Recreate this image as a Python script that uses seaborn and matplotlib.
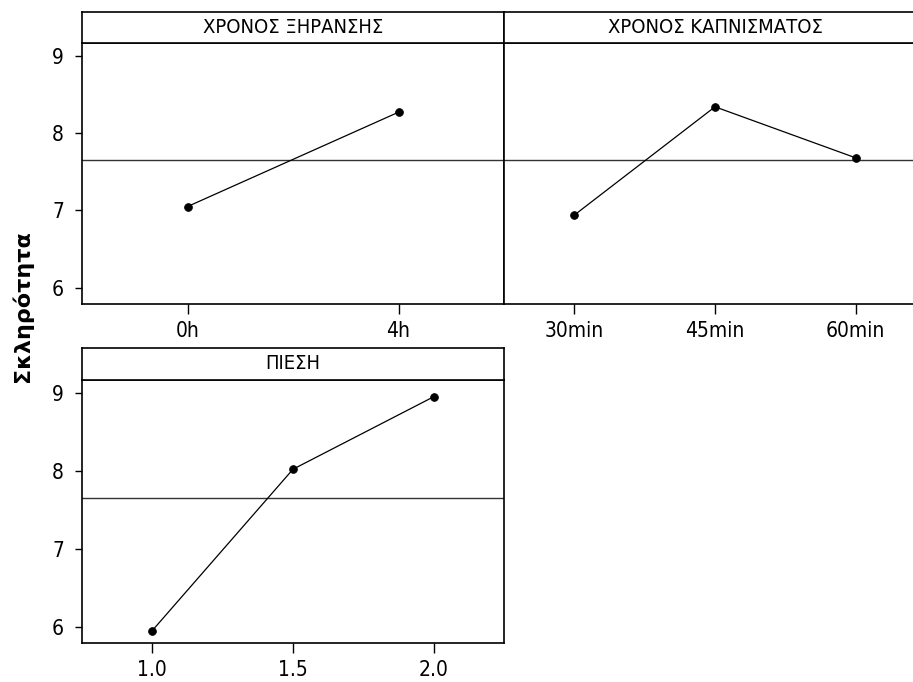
import matplotlib
matplotlib.use("Agg")
import matplotlib.pyplot as plt
import seaborn as sns

# ---- data ----
drying_title = "ΧΡΟΝΟΣ ΞΗΡΑΝΣΗΣ"
drying_levels = ["0h", "4h"]
drying_means = [7.05, 8.27]

smoking_title = "ΧΡΟΝΟΣ ΚΑΠΝΙΣΜΑΤΟΣ"
smoking_levels = ["30min", "45min", "60min"]
smoking_means = [6.94, 8.34, 7.68]

pressure_title = "ΠΙΕΣΗ"
pressure_levels = ["1.0", "1.5", "2.0"]
pressure_means = [5.95, 8.02, 8.95]

grand_mean = 7.65
y_ticks = [6, 7, 8, 9]
y_label = "Σκληρότητα"

sns.set_theme(style="white")
plt.rcParams["font.family"] = ["DejaVu Sans"]
plt.rcParams["font.stretch"] = "condensed"

W, H = 913, 682
fig = plt.figure(figsize=(W / 100, H / 100), dpi=100)
fig.patch.set_facecolor("white")


def frac(x0, y0, x1, y1):
    return [x0 / W, 1 - y1 / H, (x1 - x0) / W, (y1 - y0) / H]


panels = [
    (drying_title, drying_levels, drying_means, (82, 12, 43, 304), True),
    (smoking_title, smoking_levels, smoking_means, (504, 12, 43, 304), False),
    (pressure_title, pressure_levels, pressure_means, (82, 348, 380, 643), True),
]

for title, levels, means, (x0, ytop, ystrip, ybot), show_y in panels:
    x1 = x0 + 422
    ax = fig.add_axes(frac(x0, ystrip, x1, ybot))
    sax = fig.add_axes(frac(x0, ytop, x1, ystrip))
    ax.set_facecolor("white")
    ax.axhline(grand_mean, color="#333333", lw=1.0, zorder=1)
    sns.pointplot(x=levels, y=means, ax=ax, color="black", markers="o",
                  linestyles="-", markersize=5.5, linewidth=0.9,
                  errorbar=None, zorder=3)
    ax.set_ylim(5.79, 9.165)
    ax.set_yticks(y_ticks)
    ax.set_xlabel("")
    ax.set_ylabel("")
    for s in ax.spines.values():
        s.set_color("black")
        s.set_linewidth(1.2)
    ax.tick_params(axis="x", length=7, width=1, color="black", pad=5,
                   labelsize=15, labelcolor="black", bottom=True)
    if show_y:
        ax.tick_params(axis="y", length=5, width=1, color="black", pad=8,
                       labelsize=15, labelcolor="black", left=True)
    else:
        ax.tick_params(axis="y", left=False, labelleft=False)
    for lab in ax.get_xticklabels() + ax.get_yticklabels():
        lab.set_fontstretch("condensed")
    sax.set_xticks([])
    sax.set_yticks([])
    sax.set_facecolor("white")
    for s in sax.spines.values():
        s.set_color("black")
        s.set_linewidth(1.2)
    sax.text(0.5, 0.5, title, ha="center", va="center", fontsize=14.5,
             color="black", fontstretch="condensed", transform=sax.transAxes)

fig.text(22 / W, 1 - 306 / H, y_label, rotation=90, ha="center", va="center",
         fontsize=16, fontweight="bold", color="black",
         family=["DejaVu Sans"], fontstretch="normal")

fig.savefig("out.png", dpi=100, facecolor="white")
